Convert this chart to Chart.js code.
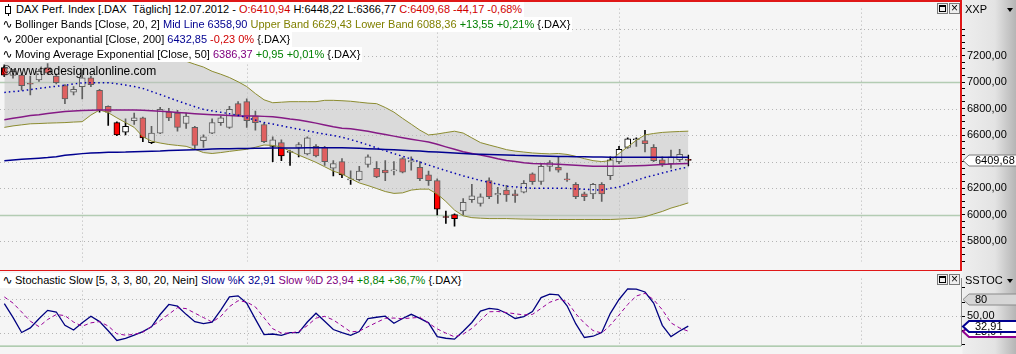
<!DOCTYPE html>
<html>
<head>
<meta charset="utf-8">
<script src="https://cdn.jsdelivr.net/npm/chart.js@4.4.1/dist/chart.umd.min.js"></script>
<style>
  body { margin: 0; background: #fff; }
  #wrap { position: relative; width: 1016px; height: 354px; overflow: hidden;
          background: linear-gradient(to right, #f5f5f5 0, #f5f5f5 962px, #eeeeee 963px, #e3e3e3 995px, #b5b5b5 1016px);
          font-family: "Liberation Sans", Arial, sans-serif; font-size: 11px; color: #000; }
  canvas { position: absolute; left: 0; }
  #main { top: 0; }
  #stoch { top: 270px; }
  .row { position: absolute; left: 0; height: 15px; line-height: 15px; background: #fff; white-space: pre; padding-right: 2px; z-index: 2; }
  .wave { display: inline-block; width: 15px; text-align: center; font-family: "DejaVu Sans"; font-size: 12px; }
  .cndl { display: inline-block; position: relative; width: 4px; height: 6px; border: 1px solid #000; background: #fff; margin: 0 5px 0 5px; vertical-align: -1px; }
  .cndl::before { content: ''; position: absolute; left: 1.5px; top: -3px; width: 1px; height: 12px; background: #000; z-index: -1; }
  .r { color: #d00000; } .n { color: #000090; } .o { color: #808000; } .g { color: #008000; } .p { color: #800080; }
  .wm { position: absolute; left: 2px; top: 64px; font-size: 12px; z-index: 2; }
  .hdr { position: absolute; left: 965px; z-index: 2; }
  .tri { position: absolute; left: 1007px; width: 0; height: 0; border-left: 3.5px solid transparent; border-right: 3.5px solid transparent; border-top: 4px solid #000; z-index: 2; }
  .btn { position: absolute; width: 9px; height: 9px; border: 1px solid #7a7a7a; background: #eee; z-index: 2; }
  .btn .box { position: absolute; left: 1px; top: 1px; width: 5px; height: 4px; border: 1px solid #000; border-top-width: 2px; }
  .btn .x { position: absolute; left: 0; top: -3px; width: 9px; text-align: center; font-size: 12px; line-height: 14px; }
</style>
</head>
<body>
<div id="wrap">
  <canvas id="main" width="1016" height="270"></canvas>
  <canvas id="stoch" width="1016" height="84"></canvas>

  <div class="row" style="top:2px"><span class="cndl"></span>DAX Perf. Index [.DAX  Täglich] 12.07.2012 - <span class="r">O:6410,94</span> H:6448,22 L:6366,77 <span class="r">C:6409,68 -44,17 -0,68%</span></div>
  <div class="row" style="top:17px"><span class="wave">∿</span>Bollinger Bands [Close, 20, 2] <span class="n">Mid Line 6358,90</span> <span class="o">Upper Band 6629,43 Lower Band 6088,36</span> <span class="g">+13,55 +0,21%</span> {.DAX}</div>
  <div class="row" style="top:32px"><span class="wave">∿</span>200er exponantial [Close, 200] <span class="n">6432,85</span> <span class="r">-0,23 0%</span> {.DAX}</div>
  <div class="row" style="top:47px"><span class="wave">∿</span>Moving Average Exponential [Close, 50] <span class="p">6386,37</span> <span class="g">+0,95 +0,01%</span> {.DAX}</div>
  <div class="wm">©www.tradesignalonline.com</div>
  <div class="row" style="top:273px"><span class="wave">∿</span>Stochastic Slow [5, 3, 3, 80, 20, Nein] <span class="n">Slow %K 32,91</span> <span class="p">Slow %D 23,94</span> <span class="g">+8,84 +36,7%</span> {.DAX}</div>

  <div class="hdr" style="top:3px">XXP</div>
  <div class="tri" style="top:8px"></div>
  <div class="hdr" style="top:274px">SSTOC</div>
  <div class="tri" style="top:279px"></div>
  <div class="btn" style="left:937px;top:3px"><div class="box"></div></div>
  <div class="btn" style="left:949px;top:3px"><div class="x">×</div></div>
  <div class="btn" style="left:937px;top:274px"><div class="box"></div></div>
  <div class="btn" style="left:949px;top:274px"><div class="x">×</div></div>
</div>

<script>
// trading days shown, then the empty calendar days on the right
const tradingDays = [
  '20.03.2012','21.03.2012','22.03.2012','23.03.2012','26.03.2012','27.03.2012','28.03.2012','29.03.2012','30.03.2012',
  '02.04.2012','03.04.2012','04.04.2012','05.04.2012','10.04.2012','11.04.2012','12.04.2012','13.04.2012','16.04.2012','17.04.2012',
  '18.04.2012','19.04.2012','20.04.2012','23.04.2012','24.04.2012','25.04.2012','26.04.2012','27.04.2012','30.04.2012',
  '02.05.2012','03.05.2012','04.05.2012','07.05.2012','08.05.2012','09.05.2012','10.05.2012','11.05.2012','14.05.2012','15.05.2012',
  '16.05.2012','17.05.2012','18.05.2012','21.05.2012','22.05.2012','23.05.2012','24.05.2012','25.05.2012','28.05.2012','29.05.2012',
  '30.05.2012','31.05.2012',
  '01.06.2012','04.06.2012','05.06.2012','06.06.2012','07.06.2012','08.06.2012','11.06.2012','12.06.2012','13.06.2012','14.06.2012',
  '15.06.2012','18.06.2012','19.06.2012','20.06.2012','21.06.2012','22.06.2012','25.06.2012','26.06.2012','27.06.2012','28.06.2012',
  '29.06.2012',
  '02.07.2012','03.07.2012','04.07.2012','05.07.2012','06.07.2012','09.07.2012','10.07.2012','11.07.2012','12.07.2012'
];
const futureDays = [
  '13.07.2012','14.07.2012','15.07.2012','16.07.2012','17.07.2012','18.07.2012','19.07.2012','20.07.2012','21.07.2012','22.07.2012',
  '23.07.2012','24.07.2012','25.07.2012','26.07.2012','27.07.2012','28.07.2012','29.07.2012','30.07.2012','31.07.2012',
  '01.08.2012','02.08.2012','03.08.2012','04.08.2012','05.08.2012','06.08.2012','07.08.2012','08.08.2012','09.08.2012','10.08.2012',
  '11.08.2012','12.08.2012'
];
const monthStarts = ['02.04.2012', '02.05.2012', '01.06.2012', '02.07.2012', '01.08.2012'];

const opens = [
  7110, 7050, 7052, 6985, 7016, 7110, 7045, 6973, 6923, 6966,
  7031, 6938, 6816, 6694, 6622, 6708, 6730, 6543, 6615, 6773,
  6766, 6687, 6658, 6558, 6615, 6694, 6658, 6837, 6852, 6744,
  6680, 6515, 6543, 6470, 6507, 6457, 6515, 6507, 6350, 6400,
  6262, 6264, 6378, 6350, 6335, 6330, 6422, 6400, 6357, 6300,
  6256, 5980, 6000, 6027, 6113, 6084, 6256, 6149, 6185, 6156,
  6170, 6307, 6250, 6364, 6357, 6264, 6228, 6156, 6156, 6228,
  6293, 6400, 6507, 6565, 6558, 6507, 6414, 6385, 6414, 6410.94
];
const highs = [
  7130, 7095, 7060, 7045, 7095, 7140, 7060, 6980, 6966, 7088,
  7045, 6945, 6820, 6700, 6722, 6766, 6735, 6665, 6809, 6801,
  6787, 6766, 6665, 6601, 6722, 6744, 6816, 6852, 6873, 6780,
  6690, 6586, 6565, 6486, 6543, 6586, 6529, 6515, 6407, 6422,
  6330, 6364, 6450, 6400, 6407, 6400, 6430, 6436, 6400, 6328,
  6270, 6027, 6005, 6120, 6228, 6156, 6278, 6206, 6220, 6185,
  6256, 6315, 6385, 6407, 6436, 6314, 6242, 6170, 6235, 6242,
  6436, 6515, 6580, 6580, 6636, 6529, 6436, 6486, 6493, 6448.22
];
const lows = [
  7040, 7030, 6938, 6902, 7005, 7060, 6985, 6837, 6902, 6873,
  6966, 6773, 6672, 6595, 6601, 6680, 6550, 6536, 6610, 6708,
  6629, 6651, 6493, 6507, 6610, 6672, 6651, 6744, 6658, 6636,
  6543, 6400, 6407, 6371, 6436, 6450, 6436, 6371, 6292, 6278,
  6228, 6255, 6357, 6278, 6256, 6300, 6314, 6335, 6256, 6220,
  5998, 5934, 5912, 5998, 6092, 6063, 6120, 6084, 6099, 6092,
  6163, 6228, 6228, 6328, 6320, 6250, 6120, 6106, 6120, 6099,
  6264, 6385, 6500, 6515, 6472, 6400, 6364, 6350, 6400, 6366.77
];
const closes = [
  7052, 7080, 6973, 6983, 7081, 7067, 6995, 6873, 6945, 7031,
  6981, 6787, 6773, 6601, 6665, 6730, 6579, 6615, 6794, 6730,
  6658, 6744, 6522, 6586, 6694, 6730, 6794, 6751, 6708, 6694,
  6550, 6565, 6443, 6475, 6529, 6579, 6443, 6400, 6385, 6300,
  6270, 6328, 6436, 6285, 6314, 6335, 6321, 6407, 6271, 6256,
  6041, 5978, 5970, 6092, 6142, 6135, 6135, 6160, 6149, 6142,
  6235, 6249, 6364, 6393, 6335, 6262, 6135, 6135, 6228, 6156,
  6414, 6493, 6572, 6570, 6536, 6407, 6385, 6436, 6454, 6409.68
];

const upperBand = [
  7186, 7186, 7191, 7201, 7217, 7232, 7244, 7259, 7275, 7287,
  7239, 7201, 7221, 7244, 7260, 7275, 7316, 7304, 7273, 7236,
  7195, 7157, 7134, 7113, 7081, 7059, 7034, 7002, 6966, 6913,
  6866, 6844, 6848, 6852, 6852, 6852, 6852, 6862, 6862, 6859,
  6855, 6848, 6841, 6837, 6808, 6773, 6726, 6682, 6637, 6601,
  6608, 6619, 6629, 6615, 6579, 6543, 6525, 6508, 6490, 6479,
  6472, 6465, 6461, 6458, 6461, 6454, 6440, 6422, 6407, 6400,
  6407, 6461, 6511, 6561, 6601, 6612, 6620, 6624, 6627, 6629.43
];
const lowerBand = [
  6658, 6669, 6677, 6685, 6687, 6690, 6692, 6694, 6698, 6701,
  6751, 6789, 6769, 6730, 6694, 6658, 6588, 6554, 6540, 6529,
  6522, 6515, 6493, 6468, 6461, 6468, 6477, 6485, 6493, 6508,
  6525, 6522, 6510, 6479, 6449, 6422, 6394, 6361, 6328, 6306,
  6272, 6239, 6219, 6197, 6174, 6160, 6164, 6185, 6192, 6192,
  6156, 6099, 6034, 5991, 5977, 5973, 5970, 5970, 5970, 5968,
  5966, 5965, 5963, 5963, 5963, 5963, 5963, 5963, 5963, 5963,
  5963, 5966, 5970, 5974, 5984, 6004, 6024, 6049, 6068, 6088.36
];
const midLine = [
  6922, 6928, 6934, 6943, 6952, 6961, 6968, 6976, 6986, 6994,
  6995, 6995, 6995, 6987, 6977, 6966, 6952, 6929, 6906, 6882,
  6858, 6836, 6814, 6794, 6783, 6772, 6761, 6750, 6731, 6713,
  6694, 6683, 6670, 6657, 6644, 6632, 6619, 6608, 6596, 6584,
  6566, 6547, 6526, 6504, 6482, 6460, 6440, 6419, 6396, 6374,
  6353, 6332, 6312, 6292, 6275, 6257, 6244, 6229, 6214, 6209,
  6203, 6199, 6199, 6199, 6199, 6198, 6194, 6191, 6187, 6185,
  6199, 6207, 6233, 6258, 6280, 6296, 6314, 6330, 6346, 6358.90
];
const ema200 = [
  6407, 6412, 6417, 6421, 6425, 6430, 6437, 6447, 6454, 6460,
  6464, 6467, 6470, 6471, 6472, 6475, 6476, 6478, 6480, 6484,
  6486, 6488, 6490, 6492, 6494, 6497, 6497, 6498, 6499, 6500,
  6500, 6502, 6502, 6503, 6503, 6504, 6504, 6505, 6505, 6504,
  6503, 6500, 6497, 6495, 6492, 6490, 6486, 6482, 6479, 6475,
  6472, 6468, 6465, 6461, 6457, 6455, 6453, 6451, 6450, 6447,
  6446, 6444, 6443, 6441, 6439, 6438, 6437, 6436, 6434, 6434,
  6433, 6433, 6433, 6433, 6433, 6433, 6433, 6433, 6433, 6432.85
];
const ema50 = [
  6715, 6726, 6737, 6747, 6754, 6763, 6771, 6778, 6782, 6785,
  6788, 6790, 6790, 6790, 6790, 6790, 6787, 6783, 6779, 6776,
  6771, 6766, 6761, 6757, 6754, 6751, 6747, 6744, 6744, 6743,
  6741, 6739, 6730, 6721, 6714, 6703, 6690, 6676, 6662, 6652,
  6647, 6639, 6629, 6616, 6604, 6592, 6580, 6569, 6558, 6547,
  6530, 6511, 6493, 6474, 6461, 6449, 6436, 6421, 6409, 6400,
  6391, 6386, 6384, 6382, 6380, 6377, 6373, 6369, 6365, 6364,
  6364, 6364, 6366, 6368, 6371, 6374, 6378, 6381, 6384, 6386.37
];
const slowK = [
  72.2, 48.1, 21.7, 29.8, 45.9, 60.5, 57.6, 34.2, 26.1, 38.6,
  50.3, 40.8, 24.7, 7.8, 11.5, 17, 23.3, 31.7, 53.2, 70.8,
  67.8, 53.5, 40.6, 37.3, 40, 61, 84, 86, 73.1, 45.2,
  18.1, 19, 16.8, 21.3, 21.4, 40, 55.5, 41.5, 26.9, 21.3,
  16.6, 23.3, 45.9, 48.4, 50.3, 37.8, 46.3, 53.6, 46.3, 38.6,
  14.3, 11.6, 10, 23.9, 39.2, 59.1, 63.8, 62.4, 55.5, 46.3,
  49.7, 58.5, 82.8, 89.1, 87.5, 68.6, 37.1, 12.9, 15.1, 21.7,
  55.3, 79.6, 98.2, 97.7, 92.7, 73.3, 34.2, 14.6, 24.2, 32.91
];
const slowD = [
  84, 73.3, 57.6, 41.5, 32, 44.4, 53.2, 51.3, 40, 32.7,
  38.6, 40.8, 33, 19.5, 17, 18.4, 22.2, 32.1, 42.7, 53.8,
  65.2, 63.6, 55.7, 47.9, 40, 49.8, 67.1, 77.4, 75.2, 66.5,
  47.5, 28.3, 20.7, 20.6, 23.5, 33.7, 46.9, 50, 43.7, 33.4,
  22.8, 24.1, 31.8, 39.3, 46.6, 47, 45.9, 47.1, 48.2, 38.1,
  28, 20.6, 14, 18.8, 28.8, 42.8, 58, 58.5, 56.7, 54.5,
  52.5, 53.4, 63.9, 74.7, 80, 76.2, 54.7, 38, 25.1, 20.7,
  34.6, 52.3, 70.8, 85.7, 90.4, 79.1, 61.6, 38.6, 29.6, 23.94
];

const priceLevels = [5800, 6000, 6200, 6400, 6600, 6800, 7000, 7200, 7400];
const priceSolid = [6000, 7000];
const priceTicks = [];
for (let v = 5650; v <= 7400; v += 50) priceTicks.push(v);
const stochTicks = [0, 25, 50, 75, 100];

const labels = tradingDays.concat(futureDays);
const fmt = v => v.toFixed(2).replace('.', ',');
const FONT = '11px "Liberation Sans"';

function hLine(ctx, x1, x2, py, color, dash, w) {
  ctx.beginPath();
  ctx.strokeStyle = color;
  ctx.lineWidth = w || 1;
  ctx.setLineDash(dash);
  ctx.moveTo(x1, py);
  ctx.lineTo(x2, py);
  ctx.stroke();
}

function vGrid(chart) {
  const { ctx, chartArea: a, scales: { x } } = chart;
  monthStarts.forEach(d => {
    const px = Math.round(x.getPixelForValue(labels.indexOf(d))) + 0.5;
    ctx.beginPath();
    ctx.strokeStyle = '#b4b4b4';
    ctx.lineWidth = 1;
    ctx.setLineDash([1, 3]);
    ctx.moveTo(px, a.top);
    ctx.lineTo(px, a.bottom);
    ctx.stroke();
  });
}

function tag(ctx, py, text, fill, stroke, lw, color) {
  const x0 = 963, h = 5.5;
  ctx.setLineDash([]);
  ctx.beginPath();
  ctx.moveTo(x0, py);
  ctx.lineTo(x0 + 6, py - h);
  ctx.lineTo(1018, py - h);
  ctx.lineTo(1018, py + h);
  ctx.lineTo(x0 + 6, py + h);
  ctx.closePath();
  ctx.fillStyle = fill;
  ctx.fill();
  ctx.lineWidth = lw;
  ctx.strokeStyle = stroke;
  ctx.stroke();
  ctx.fillStyle = color;
  ctx.font = FONT;
  ctx.textAlign = 'left';
  ctx.textBaseline = 'middle';
  ctx.fillText(text, x0 + 12, py + 0.5);
}

const mainDecor = {
  id: 'mainDecor',
  beforeDraw(chart) {
    const { ctx, chartArea: a, scales: { y } } = chart;
    ctx.save();
    ctx.fillStyle = '#f5f5f5';
    ctx.fillRect(0, 0, a.right, chart.height);
    priceLevels.forEach(v => {
      const py = Math.round(y.getPixelForValue(v)) + 0.5;
      if (priceSolid.includes(v)) hLine(ctx, a.left, a.right, py, '#b3ccb3', [], 1.5);
      else hLine(ctx, a.left, a.right, py, '#b4b4b4', [1, 3]);
    });
    vGrid(chart);
    ctx.restore();
  },
  afterDraw(chart) {
    const { ctx, chartArea: a, scales: { y } } = chart;
    ctx.save();
    ctx.fillStyle = '#e01818';
    ctx.fillRect(0, 0, a.right + 1, 2);
    ctx.fillRect(a.right - 1, 0, 2, chart.height);
    const last = closes[closes.length - 1];
    tag(ctx, Math.round(y.getPixelForValue(last)) + 0.5, fmt(last), '#ffffff', '#7a7a7a', 1, '#000');
    ctx.restore();
  }
};

const stochDecor = {
  id: 'stochDecor',
  beforeDraw(chart) {
    const { ctx, chartArea: a, scales: { x, y } } = chart;
    ctx.save();
    ctx.fillStyle = '#f5f5f5';
    ctx.fillRect(0, 0, a.right, chart.height);
    const lastX = x.getPixelForValue(slowK.length - 1);
    hLine(ctx, a.left, a.right, Math.round(y.getPixelForValue(50)) + 0.5, '#b4b4b4', [1, 3]);
    hLine(ctx, a.left, lastX, Math.round(y.getPixelForValue(80)) + 0.5, '#b4b4b4', [1, 3]);
    hLine(ctx, a.left, lastX, Math.round(y.getPixelForValue(20)) + 0.5, '#b4b4b4', [1, 3]);
    vGrid(chart);
    ctx.restore();
  },
  afterDraw(chart) {
    const { ctx, chartArea: a, scales: { y } } = chart;
    ctx.save();
    ctx.fillStyle = '#e01818';
    ctx.fillRect(0, 0, a.right + 1, 1);
    ctx.fillStyle = '#a9c8a9';
    ctx.fillRect(0, a.bottom, a.right, 1.5);
    tag(ctx, Math.round(y.getPixelForValue(80)) + 0.5, '80', '#d6d6d6', '#8a8a8a', 1, '#000');
    const d = slowD[slowD.length - 1], k = slowK[slowK.length - 1];
    tag(ctx, Math.round(y.getPixelForValue(d)) + 0.5, fmt(d), '#ffffff', '#900090', 2, '#000');
    tag(ctx, Math.round(y.getPixelForValue(k)) + 0.5, fmt(k), '#ffffff', '#000090', 2, '#000');
    ctx.restore();
  }
};

Chart.defaults.font.family = '"Liberation Sans", Arial, sans-serif';
Chart.defaults.font.size = 11;
Chart.defaults.animation = false;

const olive = '#8c8c30';

new Chart(document.getElementById('main').getContext('2d'), {
  type: 'bar',
  data: {
    labels: labels,
    datasets: [
      {
        label: 'wick', type: 'bar',
        data: lows.map((l, i) => [l, highs[i]]),
        backgroundColor: '#000', barThickness: 1, grouped: false, order: 6
      },
      {
        label: 'DAX', type: 'bar',
        data: opens.map((o, i) => [o, closes[i]]),
        backgroundColor: c => closes[c.dataIndex] < opens[c.dataIndex] ? '#ff0000' : '#ffffff',
        borderColor: '#000', borderWidth: 1, borderSkipped: false,
        barThickness: 6, minBarLength: 1, grouped: false, order: 5
      },
      {
        label: 'Upper Band', type: 'line', data: upperBand,
        borderColor: olive, borderWidth: 1, pointRadius: 0, order: 2
      },
      {
        label: 'Lower Band', type: 'line', data: lowerBand,
        borderColor: olive, borderWidth: 1, pointRadius: 0, order: 3,
        fill: '-1', backgroundColor: 'rgba(192,192,192,0.5)'
      },
      {
        label: 'Mid Line', type: 'line', data: midLine,
        borderColor: '#0000b0', borderWidth: 1.5, borderDash: [1.5, 3], pointRadius: 0, order: 1
      },
      {
        label: '200er exponantial', type: 'line', data: ema200,
        borderColor: '#000090', borderWidth: 1.5, pointRadius: 0, order: 1
      },
      {
        label: 'Moving Average Exponential', type: 'line', data: ema50,
        borderColor: '#851a85', borderWidth: 1.5, pointRadius: 0, order: 1
      }
    ]
  },
  options: {
    responsive: false,
    layout: { padding: { top: 2, bottom: 2, left: 0, right: 0 } },
    scales: {
      x: { type: 'category', offset: true, display: false },
      y: {
        position: 'right',
        min: 5647, max: 7554,
        afterFit: s => { s.width = 55; },
        afterBuildTicks: s => { s.ticks = priceTicks.map(v => ({ value: v })); },
        ticks: {
          autoSkip: false, padding: 2, color: '#000',
          callback: v => (v % 200 === 0 && v >= 5800 && v <= 7200) ? fmt(v) : ''
        },
        grid: { drawOnChartArea: false, drawTicks: true, tickLength: 4, tickColor: '#000' },
        border: { display: false }
      }
    },
    plugins: { legend: { display: false }, tooltip: { enabled: false } }
  },
  plugins: [mainDecor]
});

new Chart(document.getElementById('stoch').getContext('2d'), {
  type: 'line',
  data: {
    labels: labels,
    datasets: [
      {
        label: 'Slow %D', data: slowD,
        borderColor: '#990099', borderWidth: 1, borderDash: [4, 3], pointRadius: 0
      },
      {
        label: 'Slow %K', data: slowK,
        borderColor: '#000080', borderWidth: 1.3, pointRadius: 0
      }
    ]
  },
  options: {
    responsive: false,
    layout: { padding: { top: 2, bottom: 2, left: 0, right: 0 } },
    scales: {
      x: { type: 'category', offset: true, display: false },
      y: {
        position: 'right',
        min: -0.96, max: 116.2,
        afterFit: s => { s.width = 55; },
        afterBuildTicks: s => { s.ticks = stochTicks.map(v => ({ value: v })); },
        ticks: { autoSkip: false, padding: 2, color: '#000', callback: v => v === 50 ? fmt(v) : '' },
        grid: { drawOnChartArea: false, drawTicks: true, tickLength: 4, tickColor: '#000' },
        border: { display: true, color: '#8a8a8a' }
      }
    },
    plugins: { legend: { display: false }, tooltip: { enabled: false } }
  },
  plugins: [stochDecor]
});
</script>
</body>
</html>
